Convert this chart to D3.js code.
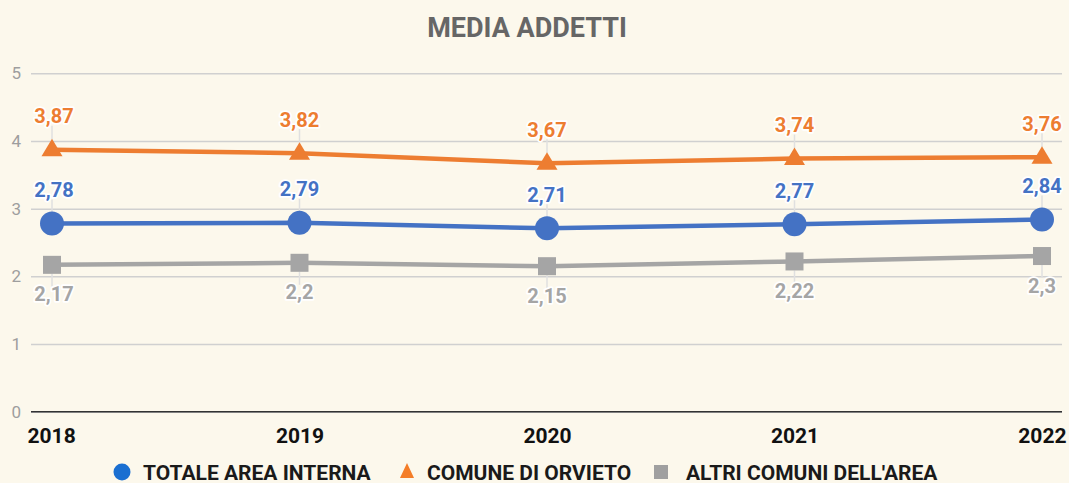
<!DOCTYPE html>
<html><head><meta charset="utf-8">
<script src="https://cdn.jsdelivr.net/npm/d3@7"></script>
<style>
html,body{margin:0;padding:0;background:#fcf8ec;}
svg{display:block;font-family:Roboto, sans-serif;}
</style></head>
<body><svg id="c" width="1069" height="483"></svg>
<script>
const years = ["2018","2019","2020","2021","2022"];
const totale = [2.78, 2.79, 2.71, 2.77, 2.84];
const orvieto = [3.87, 3.82, 3.67, 3.74, 3.76];
const altri = [2.17, 2.2, 2.15, 2.22, 2.3];
const yTicks = [0,1,2,3,4,5];
const seriesNames = ["TOTALE AREA INTERNA","COMUNE DI ORVIETO","ALTRI COMUNI DELL'AREA"];

const svg = d3.select("#c");
svg.append("rect").attr("width",1069).attr("height",483).attr("fill","#fcf8ec");

const x = d3.scalePoint().domain(years).range([52,1042]);
const y = d3.scaleLinear().domain([0,5]).range([411.7,73.3]);

// gridlines
const yAxis = d3.axisLeft(y).tickValues(yTicks).tickSize(-(1062-31)).tickFormat(d3.format("d"));
const gy = svg.append("g").attr("transform","translate(31,0)").call(yAxis);
gy.select(".domain").remove();
gy.selectAll(".tick line").attr("stroke","#d0d0d0").attr("stroke-width",1.5);
gy.selectAll(".tick text").attr("fill","#9e9e9e").attr("font-size",17).attr("x",-10).attr("font-family","Roboto");
// baseline
svg.append("line").attr("x1",31).attr("x2",1062).attr("y1",y(0)).attr("y2",y(0)).attr("stroke","#333").attr("stroke-width",1.5);

const xAxis = d3.axisBottom(x).tickSize(0).tickPadding(0);
const gx = svg.append("g").attr("transform",`translate(0,${y(0)})`).call(xAxis);
gx.select(".domain").remove();
gx.selectAll(".tick text").attr("fill","#111").attr("font-size",21).attr("font-weight","bold")
  .attr("font-family","Roboto").attr("dy","1.5em")
  .attr("text-anchor",(d,i)=> i===0?"start": i===years.length-1?"end":"middle")
  .attr("dx",(d,i)=> i===0?-25: i===years.length-1?24:0);

// title
svg.append("text").attr("x",527).attr("y",37).attr("text-anchor","middle")
  .attr("font-size",27).attr("font-weight","bold").attr("fill","#666").text("MEDIA ADDETTI");

const fmt = v => String(v).replace(".",",");
const series = [
  {vals: orvieto, color:"#ed7d31", shape:"tri", pos:"above"},
  {vals: totale, color:"#4472c4", shape:"circ", pos:"above"},
  {vals: altri, color:"#a5a5a5", shape:"sq", pos:"below"}
];
const line = d3.line().x((d,i)=>x(years[i])).y(d=>y(d));

// leader lines
series.forEach(s=>{
  s.vals.forEach((v,i)=>{
    const px=x(years[i]), py=y(v);
    svg.append("line").attr("x1",px).attr("x2",px)
      .attr("y1", s.pos==="above"? py-10 : py+9)
      .attr("y2", s.pos==="above"? py-24 : py+22)
      .attr("stroke","#e0e0e0").attr("stroke-width",1.5);
  });
});
// lines drawn bottom series first
[series[2],series[1],series[0]].forEach(s=>{
  svg.append("path").datum(s.vals).attr("d",line).attr("fill","none")
    .attr("stroke",s.color).attr("stroke-width",4.5);
});
// markers
series.forEach(s=>{
  s.vals.forEach((v,i)=>{
    const px=x(years[i]), py=y(v);
    if(s.shape==="circ"){
      svg.append("circle").attr("cx",px).attr("cy",py).attr("r",12).attr("fill",s.color);
    } else if(s.shape==="tri"){
      svg.append("path").attr("d",`M${px},${py-11}L${px+10.5},${py+6.5}L${px-10.5},${py+6.5}Z`).attr("fill",s.color);
    } else {
      svg.append("rect").attr("x",px-9).attr("y",py-9).attr("width",18).attr("height",18).attr("fill",s.color);
    }
  });
});
// data labels
series.forEach(s=>{
  s.vals.forEach((v,i)=>{
    const px=x(years[i]), py=y(v);
    const tx = i===0 ? px+2 : px;
    svg.append("text").attr("x",tx).attr("y", s.pos==="above"? py-26.5 : py+36.5)
      .attr("text-anchor","middle")
      .attr("font-size",20).attr("font-weight","bold").attr("fill",s.color)
      .attr("stroke","#fff").attr("stroke-width",3.5).attr("paint-order","stroke")
      .attr("stroke-linejoin","round").text(fmt(v));
  });
});

// legend
const leg = svg.append("g").attr("font-size",21).attr("font-weight","bold").attr("fill","#1a1a1a");
const legItems = [
  {name:seriesNames[0], mx:122, tx:143, color:"#1a6fd1", shape:"circ"},
  {name:seriesNames[1], mx:407, tx:427, color:"#f47d28", shape:"tri"},
  {name:seriesNames[2], mx:661, tx:686, color:"#a0a0a0", shape:"sq"}
];
const ly = 472;
legItems.forEach(l=>{
  if(l.shape==="circ") leg.append("circle").attr("cx",l.mx).attr("cy",ly).attr("r",8.5).attr("fill",l.color);
  else if(l.shape==="tri") leg.append("path").attr("d",`M${l.mx},${ly-9}L${l.mx+7},${ly+6}L${l.mx-7},${ly+6}Z`).attr("fill",l.color);
  else leg.append("rect").attr("x",l.mx-7).attr("y",ly-7).attr("width",14).attr("height",14).attr("fill",l.color);
  leg.append("text").attr("x",l.tx).attr("y",ly+7.5).text(l.name);
});
</script></body></html>
